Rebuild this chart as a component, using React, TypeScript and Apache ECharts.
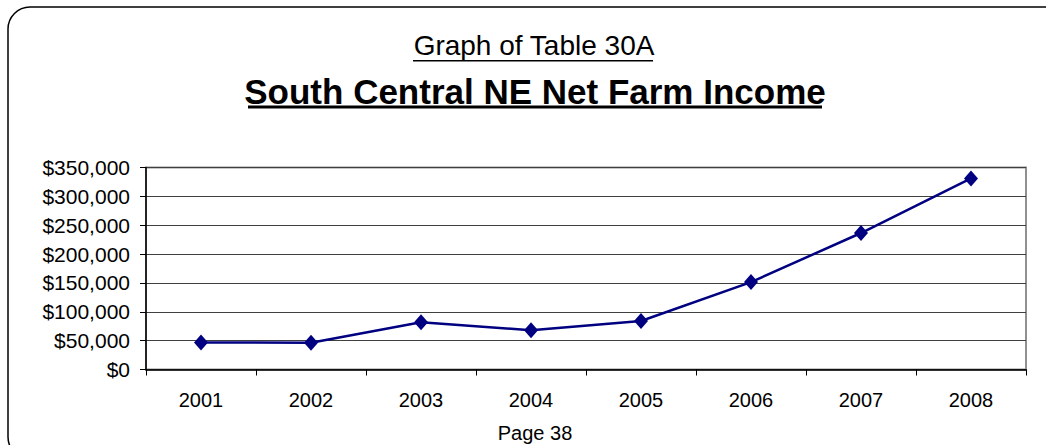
import React, { useEffect, useRef } from "react";
import * as echarts from "echarts";

const years = ["2001", "2002", "2003", "2004", "2005", "2006", "2007", "2008"];
const netFarmIncome = [46800, 46500, 81800, 68000, 84000, 151500, 236500, 331000];
const subtitleText = "Graph of Table 30A";
const titleText = "South Central NE Net Farm Income";
const pageText = "Page 38";

const fontFamily = "'Liberation Sans', Arial, sans-serif";

export default function App() {
  const ref = useRef<HTMLDivElement>(null);
  useEffect(() => {
    if (!ref.current) return;
    const chart = echarts.init(ref.current, null, { renderer: "svg" });
    chart.setOption({
      animation: false,
      backgroundColor: "#ffffff",
      textStyle: { fontFamily },
      graphic: [
        {
          type: "rect",
          shape: { x: 8, y: 7, width: 1058, height: 452, r: 22 },
          style: { fill: "none", stroke: "#000", lineWidth: 1.5 },
          z: 0,
        },
        {
          type: "text",
          x: 534,
          y: 45,
          style: {
            text: subtitleText,
            font: `28px ${fontFamily}`,
            fill: "#000",
            align: "center",
            verticalAlign: "middle",
          },
        },
        {
          type: "rect",
          shape: { x: 413, y: 60, width: 240, height: 1.5 },
          style: { fill: "#000" },
        },
        {
          type: "text",
          x: 535,
          y: 91,
          style: {
            text: titleText,
            font: `bold 35px ${fontFamily}`,
            fill: "#000",
            align: "center",
            verticalAlign: "middle",
          },
        },
        {
          type: "rect",
          shape: { x: 248, y: 105.5, width: 574, height: 3 },
          style: { fill: "#000" },
        },
        {
          type: "text",
          x: 535,
          y: 433,
          style: {
            text: pageText,
            font: `20px ${fontFamily}`,
            fill: "#000",
            align: "center",
            verticalAlign: "middle",
          },
        },
      ],
      grid: {
        left: 146,
        top: 167.5,
        right: 20,
        bottom: 75.5,
        show: true,
        borderColor: "#909090",
        borderWidth: 2,
        backgroundColor: "transparent",
      },
      xAxis: {
        type: "category",
        data: years,
        boundaryGap: true,
        axisLine: { show: true, lineStyle: { color: "#000", width: 1.5 } },
        axisTick: { show: true, length: 6, inside: false, lineStyle: { color: "#000", width: 1 } },
        axisLabel: { color: "#000", fontSize: 20, margin: 20, fontFamily },
        splitLine: { show: false },
      },
      yAxis: {
        type: "value",
        min: 0,
        max: 350000,
        interval: 50000,
        axisLine: { show: true, lineStyle: { color: "#000", width: 1.5 } },
        axisTick: { show: true, length: 6, lineStyle: { color: "#000", width: 1 } },
        axisLabel: {
          color: "#000",
          fontSize: 21,
          margin: 16,
          fontFamily,
          formatter: (v: number) => "$" + v.toLocaleString("en-US"),
        },
        splitLine: { show: true, lineStyle: { color: "#404040", width: 1 } },
      },
      series: [
        {
          type: "line",
          data: netFarmIncome,
          symbol: "diamond",
          symbolSize: [14, 16],
          itemStyle: { color: "#000080" },
          lineStyle: { color: "#000080", width: 2.5 },
        },
      ],
    });
    return () => chart.dispose();
  }, []);
  return (
    <div
      ref={ref}
      style={{ position: "fixed", left: 0, top: 0, width: 1046, height: 445 }}
    />
  );
}
